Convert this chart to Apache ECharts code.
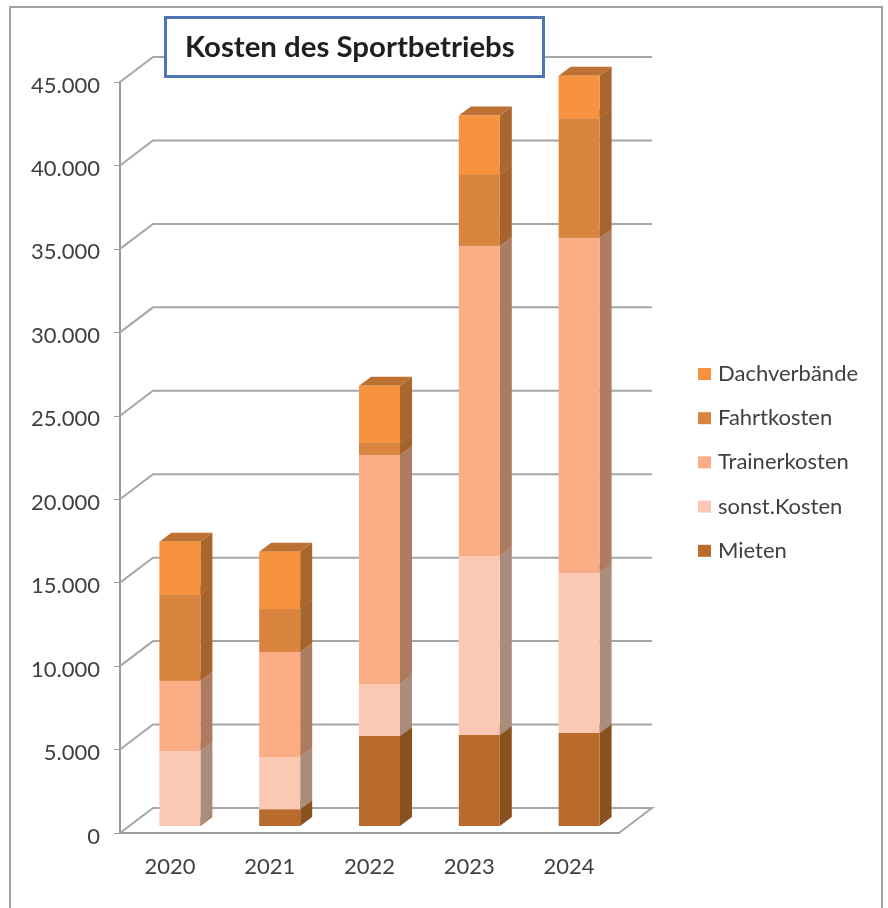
<!DOCTYPE html>
<html>
<head>
<meta charset="utf-8">
<style>
    html, body { margin: 0; padding: 0; background: #fff; }
    #chart { width: 888px; height: 908px; }
</style>
<script src="https://cdn.jsdelivr.net/npm/echarts@6/dist/echarts.min.js"></script>
</head>
<body>
<div id="chart"></div>
<script>
    var jahre = ['2020', '2021', '2022', '2023', '2024'];
    var yTicks = [0, 5000, 10000, 15000, 20000, 25000, 30000, 35000, 40000, 45000];

    // von unten nach oben gestapelt
    var mieten = [0, 1000, 5400, 5460, 5580];
    var sonstKosten = [4500, 3140, 3110, 10730, 9590];
    var trainerkosten = [4200, 6290, 13730, 18580, 20080];
    var fahrtkosten = [5150, 2570, 720, 4260, 7140];
    var dachverbaende = [3180, 3430, 3420, 3540, 2570];

    var legendOrder = ['Dachverbände', 'Fahrtkosten', 'Trainerkosten', 'sonst.Kosten', 'Mieten'];

    var reihen = [
        { name: 'Mieten', values: mieten, front: '#b96b2d', side: '#8a5120', top: '#9c5c25' },
        { name: 'sonst.Kosten', values: sonstKosten, front: '#fbc9b3', side: '#aa8b7c', top: '#c9a08e' },
        { name: 'Trainerkosten', values: trainerkosten, front: '#fbae85', side: '#ad7c60', top: '#c98d6c' },
        { name: 'Fahrtkosten', values: fahrtkosten, front: '#d9853f', side: '#a5642e', top: '#b86f33' },
        { name: 'Dachverbände', values: dachverbaende, front: '#f7923f', side: '#a9662f', top: '#bd7233' }
    ];

    // Tiefe der Rückwand und der Säulen in Pixel
    var wallDx = 33, wallDy = 25;
    var barDx = 12, barDy = 9, barShiftX = 10, barShiftY = 7, barWidth = 41;

    function renderGridLine(params, api) {
        var y = api.coord([0, api.value(1)])[1];
        var left = params.coordSys.x;
        var right = left + params.coordSys.width;
        var lineStyle = { stroke: '#a6a6a6', lineWidth: 2, fill: null };
        var points = [[left, y], [left + wallDx, y - wallDy], [right + wallDx, y - wallDy]];
        if (api.value(1) === 0) {
            points.push([right, y]);
        }
        return { type: 'polyline', shape: { points: points }, style: lineStyle };
    }

    function renderBar(reihe) {
        return function (params, api) {
            var bottom = api.coord([api.value(0), api.value(1)]);
            var top = api.coord([api.value(0), api.value(2)]);
            var l = bottom[0] + barShiftX - barWidth / 2;
            var r = l + barWidth;
            var y0 = bottom[1] - barShiftY;
            var y1 = top[1] - barShiftY;
            return {
                type: 'group',
                children: [
                    {
                        type: 'polygon',
                        shape: { points: [[r, y0], [r + barDx, y0 - barDy], [r + barDx, y1 - barDy], [r, y1]] },
                        style: { fill: reihe.side }
                    },
                    {
                        type: 'polygon',
                        shape: { points: [[l, y1], [r, y1], [r + barDx, y1 - barDy], [l + barDx, y1 - barDy]] },
                        style: { fill: reihe.top }
                    },
                    {
                        type: 'rect',
                        shape: { x: l, y: y1, width: barWidth, height: y0 - y1 },
                        style: { fill: reihe.front }
                    }
                ]
            };
        };
    }

    var summe = jahre.map(function () { return 0; });
    var barSeries = reihen.map(function (reihe) {
        var data = reihe.values.map(function (v, i) {
            var row = [i, summe[i], summe[i] + v];
            summe[i] += v;
            return row;
        });
        return {
            name: reihe.name,
            type: 'custom',
            clip: false,
            z: 3,
            itemStyle: { color: reihe.front },
            encode: { x: 0, y: [1, 2] },
            renderItem: renderBar(reihe),
            data: data
        };
    });

    var gridSeries = {
        type: 'custom',
        clip: false,
        silent: true,
        z: 1,
        encode: { x: 0, y: 1 },
        renderItem: renderGridLine,
        data: yTicks.map(function (v) { return [0, v]; })
    };

    var textColor = '#404040';
    var myChart = echarts.init(document.getElementById('chart'));
    myChart.setOption({
        animation: false,
        textStyle: { fontFamily: 'Lato' },
        title: {
            text: 'Kosten des Sportbetriebs',
            left: 165,
            top: 17,
            padding: [16, 29, 15, 20],
            borderColor: '#4f76b2',
            borderWidth: 3,
            backgroundColor: '#fff',
            textStyle: { fontFamily: 'Lato', fontSize: 29.4, fontWeight: 'bold', color: '#1f1f1f' }
        },
        legend: {
            orient: 'vertical',
            left: 693,
            top: 358,
            itemWidth: 13,
            itemHeight: 12,
            itemGap: 22.2,
            icon: 'rect',
            data: legendOrder,
            textStyle: { fontFamily: 'Lato', fontSize: 22, color: textColor, lineHeight: 22, padding: [0, 0, 0, 2] }
        },
        grid: { left: 120, right: 269, top: 82, bottom: 75 },
        xAxis: {
            type: 'category',
            data: jahre,
            axisLine: { lineStyle: { color: '#999', width: 2 } },
            axisTick: { length: 6, lineStyle: { color: '#999', width: 1 } },
            axisLabel: { margin: 23, fontFamily: 'Lato', fontSize: 22, color: textColor }
        },
        yAxis: {
            type: 'value',
            min: 0,
            max: 45000,
            interval: 5000,
            splitLine: { show: false },
            axisTick: { show: true, length: 6, lineStyle: { color: '#999', width: 1 } },
            axisLine: { show: true, lineStyle: { color: '#999', width: 2 } },
            axisLabel: {
                margin: 20,
                formatter: function (v) {
                    return '{t|' + (v === 0 ? '0' : (v / 1000) + '.000') + '}';
                },
                rich: {
                    t: { fontFamily: 'Lato', fontSize: 22, color: textColor, padding: [7, 0, 0, 0] }
                }
            }
        },
        graphic: [{
            type: 'polyline',
            silent: true,
            shape: { points: [[10, 908], [10, 7], [882, 7], [882, 908]] },
            style: { stroke: '#a0a0a0', lineWidth: 2, fill: null }
        }],
        series: [gridSeries].concat(barSeries)
    });
</script>
</body>
</html>
